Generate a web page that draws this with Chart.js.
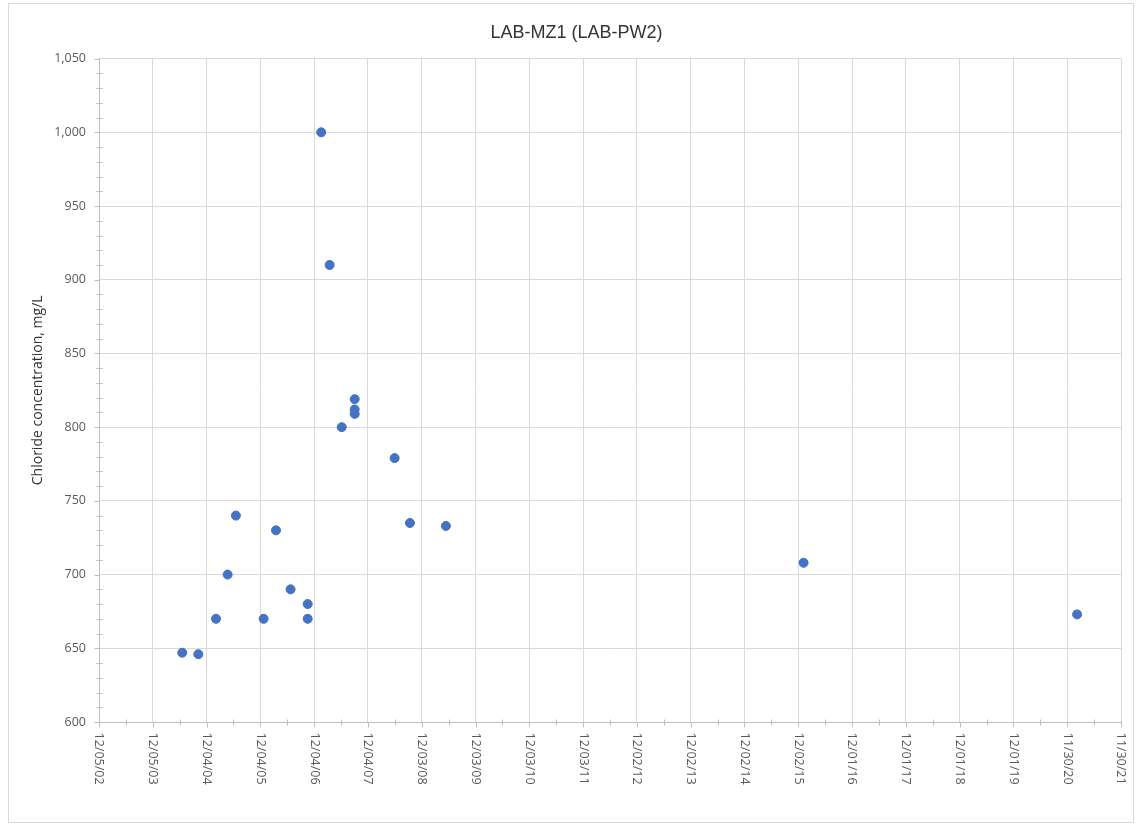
<!DOCTYPE html>
<html>
<head>
<meta charset="utf-8">
<script src="https://cdn.jsdelivr.net/npm/chart.js@4/dist/chart.umd.min.js"></script>
<style>
  html, body { margin: 0; padding: 0; background: #ffffff; }
  #wrap { position: relative; width: 1137px; height: 825px; }
</style>
</head>
<body>
<div id="wrap"><canvas id="chlorideChart" width="1137" height="825"></canvas></div>
<script>
// Sample dates and chloride results for LAB-MZ1 (LAB-PW2)
const sampleDates = [
    "2004-06-22", "2004-10-09", "2005-02-06", "2005-04-26", "2005-06-21",
    "2005-12-26", "2006-03-20", "2006-06-27", "2006-10-21", "2006-10-21",
    "2007-01-21", "2007-03-19", "2007-06-09", "2007-09-05", "2007-09-05",
    "2007-09-05", "2008-06-02", "2008-09-14", "2009-05-16", "2016-01-07",
    "2021-02-05"
];
const chlorideValues = [
    647, 646, 670, 700, 740,
    670, 730, 690, 680, 670,
    1000, 910, 800, 819, 812,
    809, 779, 735, 733, 708,
    673
];

// Excel date axis: starts 12/05/02, major unit 365 days
const axisStart = "2002-12-05";
const xTickLabels = [
    "12/05/02", "12/05/03", "12/04/04", "12/04/05", "12/04/06", "12/04/07",
    "12/03/08", "12/03/09", "12/03/10", "12/03/11", "12/02/12", "12/02/13",
    "12/02/14", "12/02/15", "12/01/16", "12/01/17", "12/01/18", "12/01/19",
    "11/30/20", "11/30/21"
];
const yMin = 600, yMax = 1050, yStep = 50, yMinorStep = 10;

const DAY = 86400000;
function daysFromStart(d) {
    return Math.round((Date.parse(d + "T00:00:00Z") - Date.parse(axisStart + "T00:00:00Z")) / DAY);
}

const points = sampleDates.map((d, i) => ({ x: daysFromStart(d), y: chlorideValues[i] }));
const xStep = 365;
const xMax = xStep * (xTickLabels.length - 1);

const textGray = "#595959";
const gridGray = "#d9d9d9";

// frame, minor ticks and the rotated date labels
const excelBits = {
    id: "excelBits",
    afterLayout(chart) {
        // Excel centres the title on the whole chart box
        if (chart.titleBlock) {
            chart.titleBlock.left = 16;
            chart.titleBlock.right = chart.width;
        }
    },
    beforeDraw(chart) {
        const ctx = chart.ctx;
        ctx.save();
        ctx.fillStyle = "#ffffff";
        ctx.fillRect(0, 0, chart.width, chart.height);
        ctx.strokeStyle = gridGray;
        ctx.lineWidth = 1;
        ctx.strokeRect(8.5, 3.5, 1125, 819);
        ctx.restore();
    },
    afterDraw(chart) {
        const ctx = chart.ctx;
        const xs = chart.scales.x, ys = chart.scales.y;
        const axisX = Math.round(xs.left) + 0.5;
        const axisY = Math.round(ys.bottom) + 0.5;
        ctx.save();
        ctx.strokeStyle = "#bfbfbf";
        ctx.lineWidth = 1;
        ctx.beginPath();
        // y tick marks
        for (let v = yMin; v <= yMax; v += yMinorStep) {
            const py = Math.round(ys.getPixelForValue(v)) + 0.5;
            if (v % yStep === 0) {
                ctx.moveTo(axisX - 5, py); ctx.lineTo(axisX, py);
            } else {
                ctx.moveTo(axisX - 3, py); ctx.lineTo(axisX + 3, py);
            }
        }
        // x tick marks
        for (let v = 0; v <= xMax; v += xStep / 2) {
            const px = Math.round(xs.getPixelForValue(v)) + 0.5;
            if (v % xStep === 0) {
                ctx.moveTo(px, axisY); ctx.lineTo(px, axisY + 5);
            } else {
                ctx.moveTo(px, axisY - 3); ctx.lineTo(px, axisY + 3);
            }
        }
        ctx.stroke();

        ctx.fillStyle = textGray;
        ctx.font = "12.5px 'Open Sans', sans-serif";
        ctx.textAlign = "left";
        ctx.textBaseline = "middle";
        xTickLabels.forEach((label, i) => {
            const px = xs.getPixelForValue(i * xStep);
            ctx.save();
            ctx.translate(px, axisY + 10);
            ctx.rotate(Math.PI / 2);
            ctx.fillText(label, 0, 0);
            ctx.restore();
        });
        ctx.restore();
    }
};

const ctx = document.getElementById("chlorideChart").getContext("2d");
new Chart(ctx, {
    type: "scatter",
    data: {
        datasets: [{
            label: "Chloride",
            data: points,
            backgroundColor: "#4472c4",
            borderColor: "#4472c4",
            pointRadius: 4.5,
            pointHoverRadius: 4.5
        }]
    },
    options: {
        responsive: false,
        animation: false,
        layout: { padding: { left: 0, right: 16, top: 0, bottom: 0 } },
        plugins: {
            legend: { display: false },
            tooltip: { enabled: false },
            title: {
                display: true,
                text: "LAB-MZ1 (LAB-PW2)",
                color: "#333333",
                font: { family: "'Liberation Sans', Arial, sans-serif", size: 18, weight: "normal" },
                padding: { top: 22, bottom: 15 }
            }
        },
        scales: {
            x: {
                type: "linear",
                min: 0,
                max: xMax,
                ticks: { display: false, stepSize: xStep },
                grid: { color: gridGray, drawTicks: false },
                border: { color: "#bfbfbf" },
                afterFit(scale) { scale.height = 103; }
            },
            y: {
                min: yMin,
                max: yMax,
                ticks: {
                    stepSize: yStep,
                    padding: 13,
                    color: textGray,
                    font: { family: "'Open Sans', sans-serif", size: 12.5 },
                    callback: v => v.toLocaleString("en-US")
                },
                grid: { color: gridGray, drawTicks: false },
                border: { color: "#bfbfbf" },
                title: {
                    display: true,
                    text: "Chloride concentration, mg/L",
                    color: "#333333",
                    font: { family: "'Open Sans', sans-serif", size: 14 },
                    padding: { top: 30, bottom: 4 }
                },
                afterFit(scale) { scale.width = 99; }
            }
        }
    },
    plugins: [excelBits]
});
</script>
</body>
</html>
